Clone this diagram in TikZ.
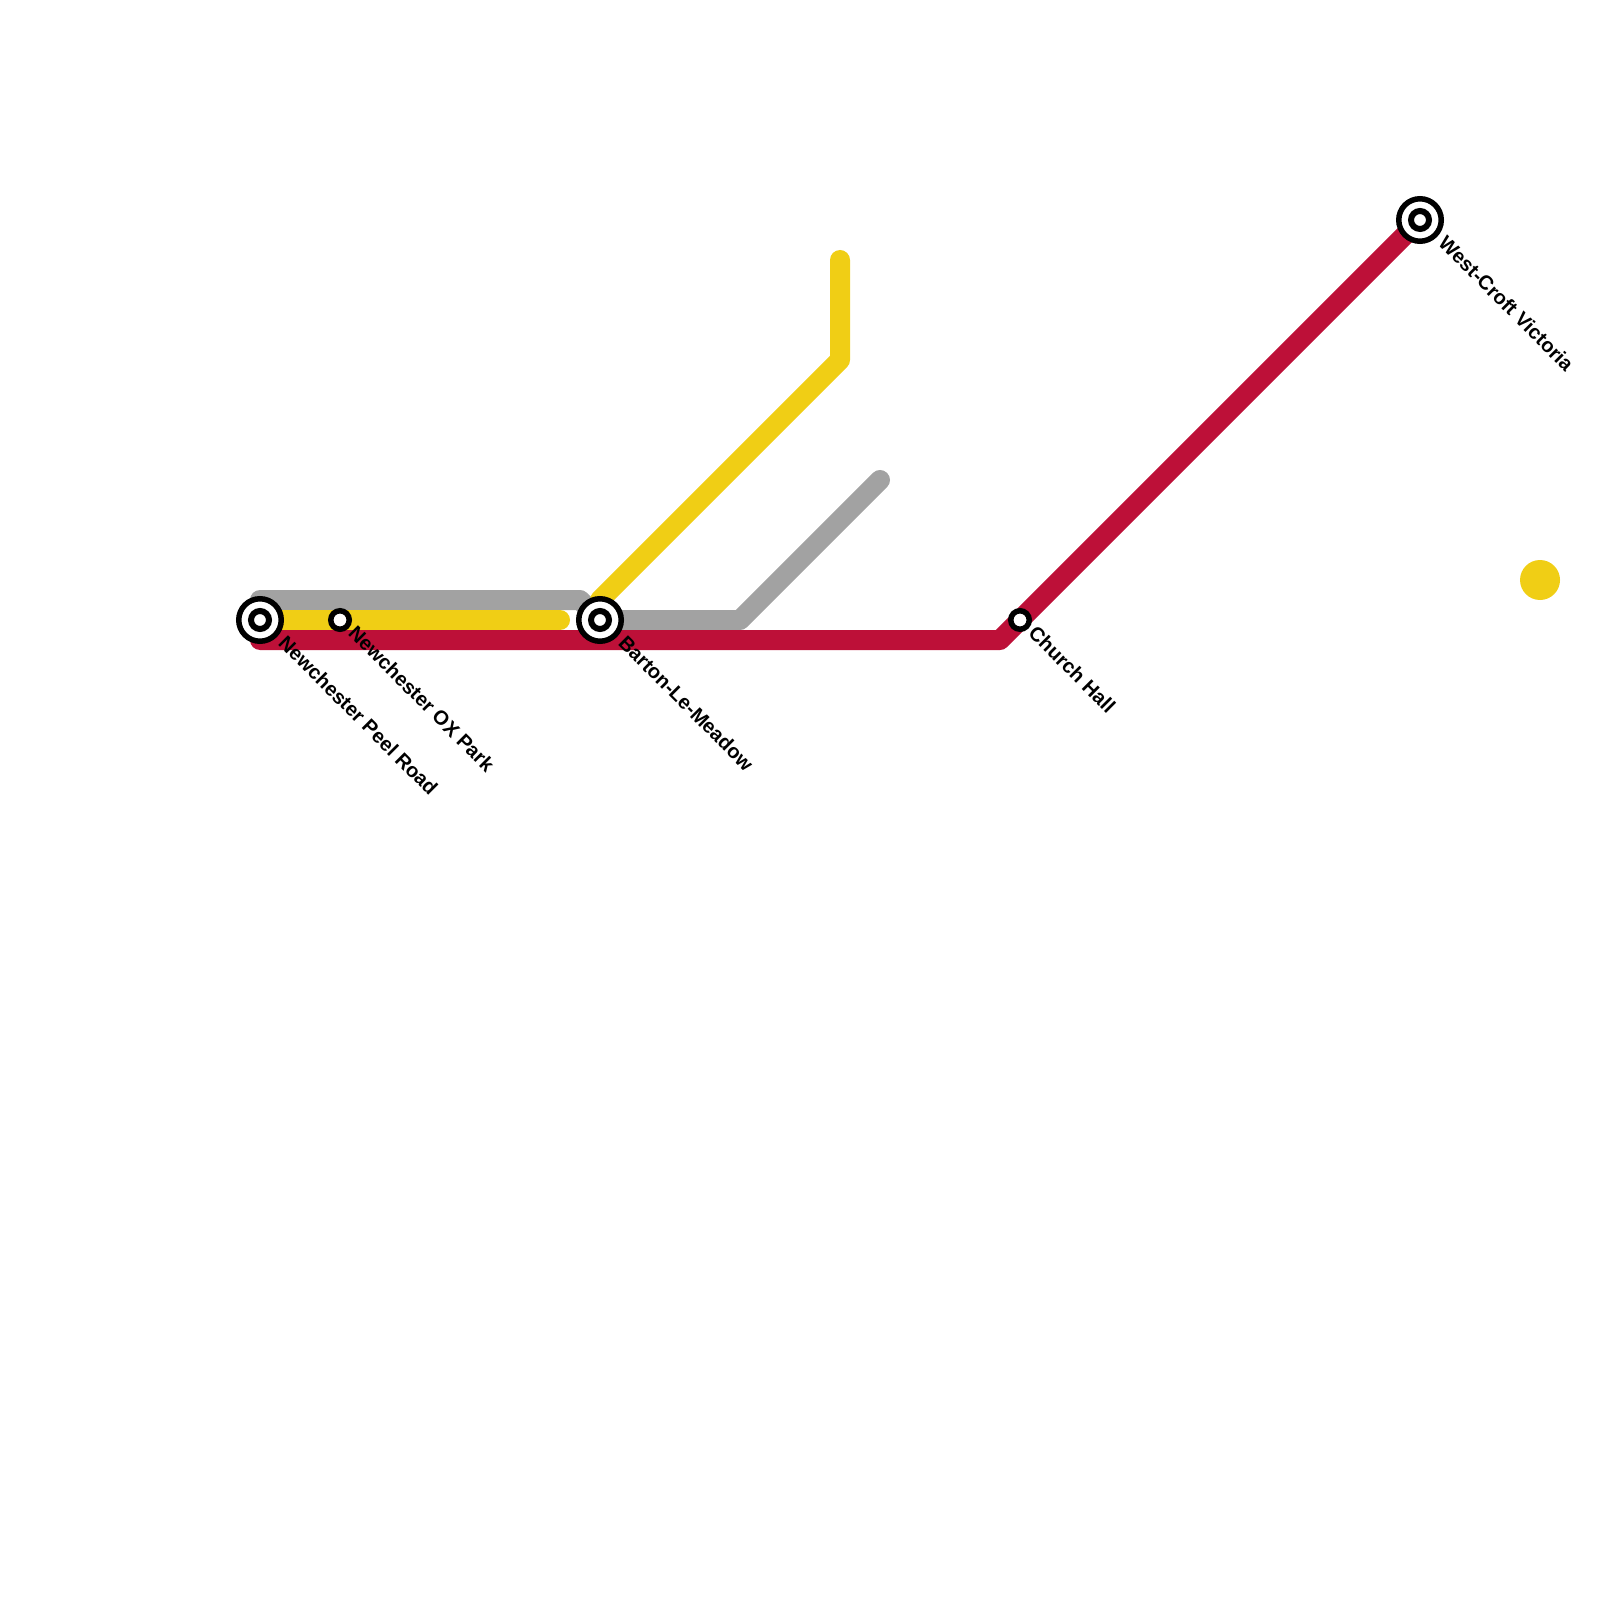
\documentclass[tikz,border=0pt]{standalone}
\usepackage{fontspec}
\setmainfont{Liberation Sans}
\usetikzlibrary{backgrounds,calc}
\definecolor{linered}{HTML}{BD1038}
\definecolor{lineyellow}{HTML}{F0CE15}
\definecolor{linegrey}{HTML}{A2A2A2}
\tikzset{
 railline/.style={line width=0.2cm,line cap=round,line join=round},
 hub/.style={circle,draw=black,fill=white,line width=0.055cm,minimum size=0.425cm,inner sep=0pt},
 hubcore/.style={circle,draw=black,fill=white,line width=0.06cm,minimum size=0.18cm,inner sep=0pt},
 halt/.style={circle,draw=black,fill=white,line width=0.055cm,minimum size=0.185cm,inner sep=0pt},
 stnlabel/.style={anchor=west,rotate=-45,inner sep=0pt,font=\bfseries\fontsize{5.7pt}{7pt}\selectfont},
}

\begin{document}
\begin{tikzpicture}[x=1cm,y=-1cm]
\useasboundingbox (0,0) rectangle (16,16);
\node[hub] (peel) at (2.6,6.2) {};
\node[hubcore] (peelcore) at (peel) {};
\node[halt] (oxpark) at (3.4,6.2) {};
\node[hub] (barton) at (6,6.2) {};
\node[hubcore] (bartoncore) at (barton) {};
\node[halt] (church) at (10.2,6.2) {};
\node[hub] (westcroft) at (14.2,2.2) {};
\node[hubcore] (westcroftcore) at (westcroft) {};
\node[circle,fill=lineyellow,minimum size=0.4cm,inner sep=0pt] (spot) at (15.4,5.8) {};
% labels
\node[stnlabel] (peellabel) at (2.82,6.39) {Newchester Peel Road};
\node[stnlabel] (oxparklabel) at (3.52,6.29) {Newchester OX Park};
\node[stnlabel] (bartonlabel) at (6.22,6.39) {Barton-Le-Meadow};
\node[stnlabel] (churchlabel) at (10.32,6.29) {Church Hall};
\node[stnlabel] (westcroftlabel) at (14.42,2.39) {West-Croft Victoria};
% lines
\begin{scope}[on background layer]
\coordinate (gA) at (2.6,6);
\coordinate (gB) at (5.8,6);
\coordinate (gC) at (7.4,6.2);
\coordinate (gD) at (8.8,4.8);
\coordinate (yA) at (5.6,6.2);
\coordinate (yB) at (6,6);
\coordinate (yC) at (8.4,3.6);
\coordinate (yD) at (8.4,2.6);
\coordinate (rA) at (2.6,6.4);
\coordinate (rB) at (10,6.4);
\draw[railline,linegrey] (gA) -- (gB) -- (barton.center) -- (gC) -- (gD);
\draw[railline,lineyellow] (peel.center) -- (yA);
\draw[railline,lineyellow] (yB) -- (yC) -- (yD);
\draw[railline,linered] (rA) -- (rB) -- (westcroft.center);
\end{scope}
\end{tikzpicture}
\end{document}
